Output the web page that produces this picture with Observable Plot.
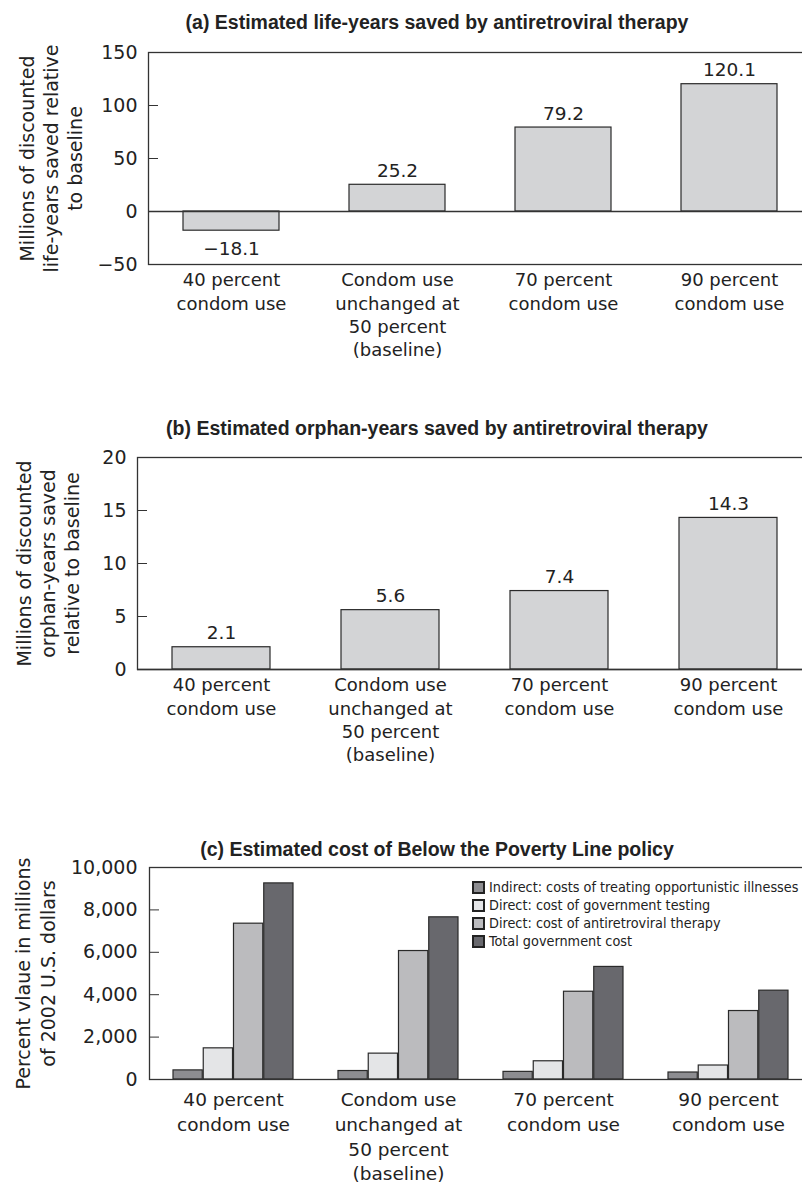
<!DOCTYPE html>
<html><head><meta charset="utf-8">
<script src="https://cdn.jsdelivr.net/npm/d3@7"></script>
<script src="https://cdn.jsdelivr.net/npm/@observablehq/plot@0.6"></script>
<style>
html,body{margin:0;padding:0;background:#fff;}
#page{position:relative;width:802px;height:1189px;overflow:hidden;font-family:"DejaVu Sans",sans-serif;color:#222;}
.title{position:absolute;left:0;width:874px;text-align:center;font-family:"Liberation Sans",sans-serif;font-weight:bold;font-size:19.5px;line-height:22px;color:#222;white-space:nowrap;z-index:3;}
.chart{position:absolute;left:0;z-index:1;}
.chart svg{overflow:hidden;}
#legend{position:absolute;left:473px;top:878px;width:420px;z-index:2;}
#legend .lg-swatch{display:flex;align-items:center;height:18px;margin:0;padding:0;}
#legend svg{margin-right:5px;flex-shrink:0;}
#legend svg rect{stroke:#222;stroke-width:2;}
#legend .lg-swatch-label, #legend span, #legend div{white-space:nowrap;overflow:visible;}
#legend *{font-family:"DejaVu Sans Condensed","DejaVu Sans",sans-serif;font-size:14.3px;color:#222;}
</style></head>
<body>
<div id="page">
  <div class="title" style="top:11px">(a) Estimated life-years saved by antiretroviral therapy</div>
  <div class="chart" id="chartA" style="top:40px"></div>
  <div class="title" style="top:417px">(b) Estimated orphan-years saved by antiretroviral therapy</div>
  <div class="chart" id="chartB" style="top:445px"></div>
  <div class="title" style="top:838px">(c) Estimated cost of Below the Poverty Line policy</div>
  <div class="chart" id="chartC" style="top:855px"></div>
  <div id="legend"></div>
</div>
<script>
const scenarios = [
  "40 percent\ncondom use",
  "Condom use\nunchanged at\n50 percent\n(baseline)",
  "70 percent\ncondom use",
  "90 percent\ncondom use"
];
const lifeYears = [-18.1, 25.2, 79.2, 120.1];
const orphanYears = [2.1, 5.6, 7.4, 14.3];
const lifeTicks = [-50, 0, 50, 100, 150];
const orphanTicks = [0, 5, 10, 15, 20];

const costSeries = [
  "Indirect: costs of treating opportunistic illnesses",
  "Direct: cost of government testing",
  "Direct: cost of antiretroviral therapy",
  "Total government cost"
];
const costIndirect = [430, 400, 360, 330];
const costTesting = [1470, 1220, 860, 660];
const costART = [7350, 6060, 4140, 3230];
const costTotal = [9250, 7650, 5310, 4190];
const costTicks = [0, 2000, 4000, 6000, 8000, 10000];
const costColors = ["#8d8d91", "#e4e5e7", "#bbbbbe", "#68686d"];

const fmt1 = d3.format(".1f");
const baseStyle = {fontFamily: "DejaVu Sans, sans-serif", fontSize: "18px", color: "#222", background: "white"};

function barPanel({values, ticks, domain, left, right, yLabel, labelDx}) {
  const data = scenarios.map((s, i) => ({s, v: values[i]}));
  return Plot.plot({
    width: 802, height: 330, marginTop: 12, marginBottom: 106, marginLeft: left, marginRight: 0,
    style: baseStyle,
    x: {domain: scenarios, range: [left, right], paddingInner: 0.42, paddingOuter: 0.21, label: null},
    y: {domain, label: null},
    marks: [
      Plot.barY(data, {x: "s", y: "v", fill: "#d3d4d6", stroke: "#2a2a2a", strokeWidth: 1.2}),
      Plot.ruleY([0], {stroke: "#333", strokeWidth: 1.3}),
      Plot.frame({stroke: "#333", strokeWidth: 1.3, insetRight: -4}),
      Plot.axisY({ticks, tickSize: 10, dx: 10, fill: "none", stroke: "#333", label: null}),
      Plot.axisY({ticks, tickSize: 0, tickPadding: 11, fontSize: 19, label: null}),
      Plot.axisX({tickSize: 0, tickPadding: 5, lineHeight: 1.3, fontSize: 18, label: null}),
      Plot.text(data.filter(d => d.v >= 0), {x: "s", y: "v", text: d => fmt1(d.v), lineAnchor: "bottom", dy: -8, fontSize: 18.5}),
      Plot.text(data.filter(d => d.v < 0), {x: "s", y: "v", text: d => fmt1(d.v), lineAnchor: "top", dy: 11, fontSize: 18.5}),
      Plot.text([yLabel], {frameAnchor: "left", rotate: -90, dx: labelDx, text: d => d, lineHeight: 1.27, fontSize: 19, textAnchor: "middle", lineAnchor: "middle"})
    ]
  });
}

document.getElementById("chartA").append(barPanel({
  values: lifeYears, ticks: lifeTicks, domain: [-50, 150], left: 148, right: 812,
  yLabel: "Millions of discounted\nlife-years saved relative\nto baseline", labelDx: -98
}));
document.getElementById("chartB").append(barPanel({
  values: orphanYears, ticks: orphanTicks, domain: [0, 20], left: 137, right: 813,
  yLabel: "Millions of discounted\norphan-years saved\nrelative to baseline", labelDx: -90
}));

// Panel (c): grouped bars
const costValues = [costIndirect, costTesting, costART, costTotal];
const costData = scenarios.flatMap((s, i) => costSeries.map((k, j) => ({s, k, j, v: costValues[j][i]})));
const cLeft = 149, cRight = 813, cPadIn = 0.271, cPadOut = 0.136;
const cStep = (cRight - cLeft) / (scenarios.length - cPadIn + 2 * cPadOut);
const cSub = cStep * (1 - cPadIn) / costSeries.length;

const chartC = Plot.plot({
  width: 802, height: 334, marginTop: 12, marginBottom: 110, marginLeft: cLeft, marginRight: 0,
  style: baseStyle,
  x: {domain: scenarios, range: [cLeft, cRight], paddingInner: cPadIn, paddingOuter: cPadOut, label: null},
  y: {domain: [0, 10000], label: null},
  color: {domain: costSeries, range: costColors},
  marks: [
    ...costSeries.map((k, j) => Plot.barY(costData.filter(d => d.k === k), {
      x: "s", y: "v", fill: "k", stroke: "#2a2a2a", strokeWidth: 1.2,
      insetLeft: j * cSub, insetRight: (costSeries.length - 1 - j) * cSub
    })),
    Plot.frame({stroke: "#333", strokeWidth: 1.3, insetRight: -4}),
    Plot.axisY({ticks: costTicks, tickSize: 10, dx: 10, fill: "none", stroke: "#333", label: null}),
    Plot.axisY({ticks: costTicks, tickSize: 0, tickPadding: 12, fontSize: 19, tickFormat: d3.format(","), label: null}),
    Plot.axisX({tickSize: 0, tickPadding: 9, lineHeight: 1.34, fontSize: 18.5, label: null}),
    Plot.text(["Percent vlaue in millions\nof 2002 U.S. dollars"], {frameAnchor: "left", rotate: -90, dx: -115, text: d => d, lineHeight: 1.32, fontSize: 19, textAnchor: "middle", lineAnchor: "middle"})
  ]
});
document.getElementById("chartC").append(chartC);

document.getElementById("legend").append(Plot.legend({
  color: {domain: costSeries, range: costColors},
  legend: "swatches", columns: 1, swatchSize: 11, className: "lg"
}));
</script>
</body></html>
